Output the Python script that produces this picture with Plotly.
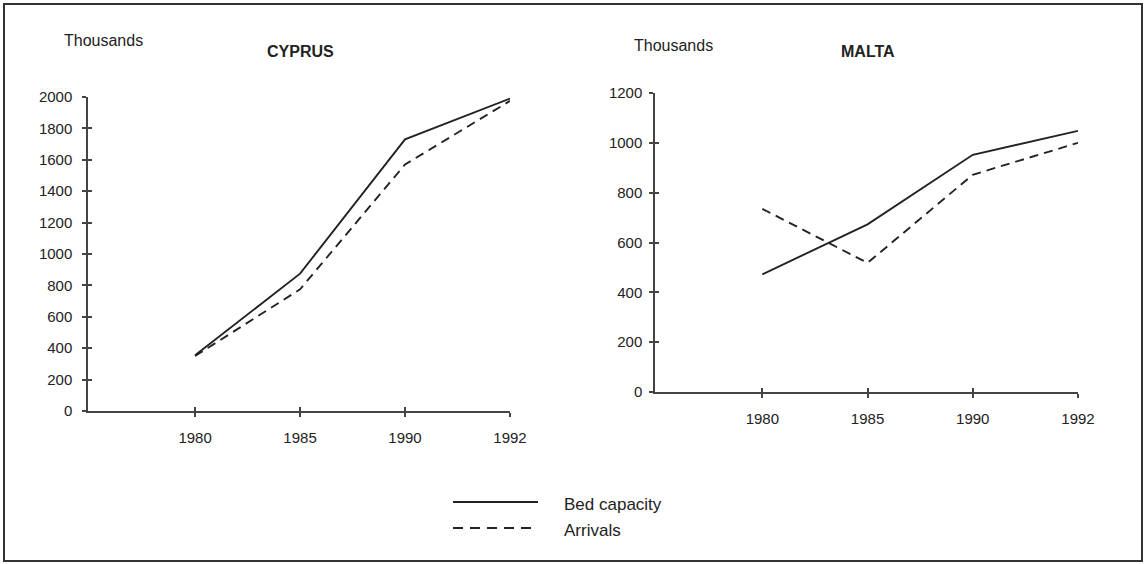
import plotly.graph_objects as go

years = ["1980", "1985", "1990", "1992"]
cyprus_beds = [355, 875, 1730, 1990]
cyprus_arrivals = [350, 775, 1570, 1975]
malta_beds = [472, 673, 952, 1048]
malta_arrivals = [735, 518, 872, 1000]

W, H = 1148, 564
FONT = "Liberation Sans, Arial, Helvetica, sans-serif"
INK = "#222222"
AX = "#444444"

def px(x):
    return x / W

def py(y):
    return 1 - y / H

fig = go.Figure()
solid = dict(color=INK, width=1.9)
dashed = dict(color=INK, width=1.9, dash="9px,6px")

fig.add_trace(go.Scatter(x=years, y=cyprus_beds, mode="lines", line=solid,
                         name="Bed capacity", xaxis="x", yaxis="y", showlegend=False))
fig.add_trace(go.Scatter(x=years, y=cyprus_arrivals, mode="lines", line=dashed,
                         name="Arrivals", xaxis="x", yaxis="y", showlegend=False))
fig.add_trace(go.Scatter(x=years, y=malta_beds, mode="lines", line=solid,
                         name="Bed capacity", xaxis="x2", yaxis="y2", showlegend=False))
fig.add_trace(go.Scatter(x=years, y=malta_arrivals, mode="lines", line=dashed,
                         name="Arrivals", xaxis="x2", yaxis="y2", showlegend=False))
# dummy traces for overlay axes (inner half of crossing ticks)
fig.add_trace(go.Scatter(x=[], y=[], xaxis="x3", yaxis="y3", showlegend=False, hoverinfo="skip"))
fig.add_trace(go.Scatter(x=[], y=[], xaxis="x4", yaxis="y4", showlegend=False, hoverinfo="skip"))

tickfont = dict(family=FONT, size=15, color=INK)

def xax(domain, anchor, overlay=None):
    d = dict(domain=domain, anchor=anchor, type="category", categoryorder="array",
             categoryarray=years, range=[-1.02, 3], showgrid=False, zeroline=False,
             showline=overlay is None, linecolor=AX, linewidth=1.5,
             ticks="outside" if overlay is None else "inside", ticklen=4, tickwidth=1.5,
             tickcolor=AX, tickfont=tickfont, showticklabels=overlay is None,
             ticklabelstandoff=8, fixedrange=True, automargin=False, title_text="")
    if overlay:
        d["overlaying"] = overlay
    return d

def yax(domain, anchor, rng, standoff, overlay=None):
    d = dict(domain=domain, anchor=anchor, range=rng, dtick=200, showgrid=False,
             zeroline=False, showline=overlay is None, linecolor=AX, linewidth=1.5,
             ticks="outside" if overlay is None else "inside", ticklen=4, tickwidth=1.5,
             tickcolor=AX, tickfont=tickfont, showticklabels=overlay is None,
             ticklabelstandoff=standoff, fixedrange=True, automargin=False, title_text="")
    if overlay:
        d["overlaying"] = overlay
    return d

cx = [px(88), px(510)]
cy = [py(411), py(97)]
mx = [px(655), px(1078)]
my = [py(392), py(93)]

fig.update_layout(
    width=W, height=H, autosize=False, margin=dict(l=0, r=0, t=0, b=0, pad=0, autoexpand=False),
    paper_bgcolor="white", plot_bgcolor="rgba(0,0,0,0)",
    xaxis=xax(cx, "y"), yaxis=yax(cy, "x", [0, 2000], 7),
    xaxis2=xax(mx, "y2"), yaxis2=yax(my, "x2", [0, 1200], 4),
    xaxis3=xax(cx, "y3", overlay="x"), yaxis3=yax(cy, "x3", [0, 2000], 7, overlay="y"),
    xaxis4=xax(mx, "y4", overlay="x2"), yaxis4=yax(my, "x4", [0, 1200], 4, overlay="y2"),
    showlegend=False,
)

ann = []
def text(x, y, s, size=14, bold=False, xanchor="left"):
    ann.append(dict(x=px(x), y=py(y), xref="paper", yref="paper", text=f"<b>{s}</b>" if bold else s,
                    showarrow=False, xanchor=xanchor, yanchor="middle",
                    font=dict(family=FONT, size=size, color=INK)))

text(62, 41, "Thousands", size=16)
text(300, 51, "CYPRUS", size=16, bold=True, xanchor="center")
text(632, 46, "Thousands", size=16)
text(868, 51, "MALTA", size=16, bold=True, xanchor="center")
text(562, 504, "Bed capacity", size=17)
text(562, 530, "Arrivals", size=17)
fig.update_layout(annotations=ann)

shapes = [
    dict(type="rect", xref="paper", yref="paper", x0=px(4), x1=px(1142), y0=py(4), y1=py(561),
         line=dict(color="#333333", width=2)),
    dict(type="line", xref="paper", yref="paper", x0=px(453), x1=px(538), y0=py(502), y1=py(502),
         line=dict(color=INK, width=1.9)),
    dict(type="line", xref="paper", yref="paper", x0=px(453), x1=px(538), y0=py(528), y1=py(528),
         line=dict(color=INK, width=1.9, dash="10px,7px")),
]
fig.update_layout(shapes=shapes)

fig.write_html(
    "out.html",
    config={"displayModeBar": False, "responsive": False},
    post_script=(
        "document.body.style.margin='0';"
        "document.body.style.padding='0';"
        "document.documentElement.style.overflow='hidden';"
    ),
)
